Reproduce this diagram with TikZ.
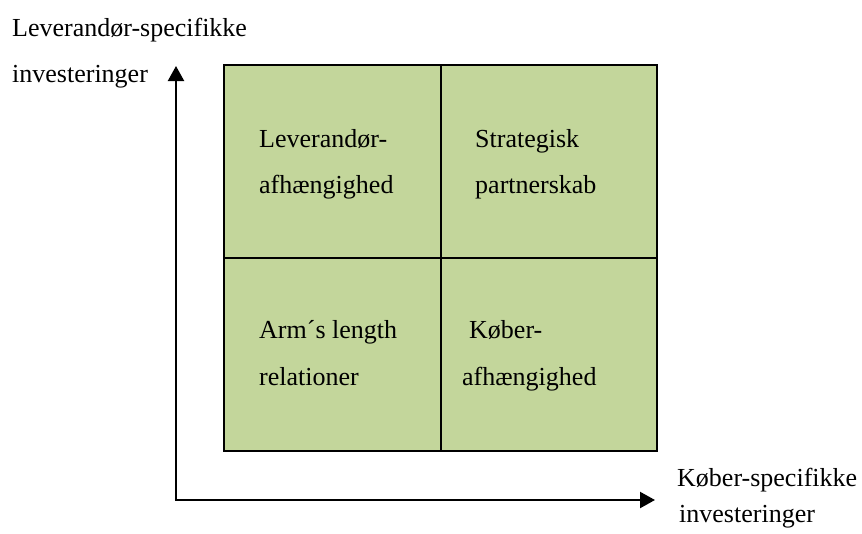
\documentclass[tikz,border=0pt]{standalone}
\usepackage{fontspec}
\setmainfont{Liberation Serif}
\usetikzlibrary{arrows.meta}
\definecolor{cellgreen}{HTML}{C3D69B}
\begin{document}
\begin{tikzpicture}[x=1pt,y=-1pt,
  cell/.style={draw=black,line width=2pt,fill=cellgreen,anchor=north west,
    minimum width=216.5pt,minimum height=193pt,inner sep=0pt,outer sep=0pt},
  axis/.style={line width=2.2pt,-{Triangle[width=16pt,length=15pt]}},
  lbl/.style={anchor=base west,inner sep=0pt,font=\fontsize{26}{31}\selectfont}]
\useasboundingbox (0,0) rectangle (862,533);

% four quadrants
\node[cell] (tl) at (224,65) {};
\node[cell] (tr) at (440.5,65) {};
\node[cell] (bl) at (224,258) {};
\node[cell] (br) at (440.5,258) {};

% quadrant texts
\node[lbl] (t1a) at (259,147) {Leverandør-};
\node[lbl] (t1b) at (259,193) {afhængighed};
\node[lbl] (t2a) at (475,147) {Strategisk};
\node[lbl] (t2b) at (475,193) {partnerskab};
\node[lbl] (t3a) at (259,338) {Arm´s length};
\node[lbl] (t3b) at (259,385) {relationer};
\node[lbl] (t4a) at (469,338) {Køber-};
\node[lbl] (t4b) at (462,385) {afhængighed};

% axes
\coordinate (origin) at (176,500);
\coordinate (ytip) at (176,66);
\coordinate (xtip) at (655,500);
\draw[axis] ([yshift=1.1pt]origin) -- (ytip);
\draw[axis] ([xshift=-1.1pt]origin) -- (xtip);

% axis labels
\node[lbl] (ya) at (12,36) {Leverandør-specifikke};
\node[lbl] (yb) at (12,82) {investeringer};
\node[lbl] (xa) at (677,486) {Køber-specifikke};
\node[lbl] (xb) at (679,522) {investeringer};
\end{tikzpicture}
\end{document}
